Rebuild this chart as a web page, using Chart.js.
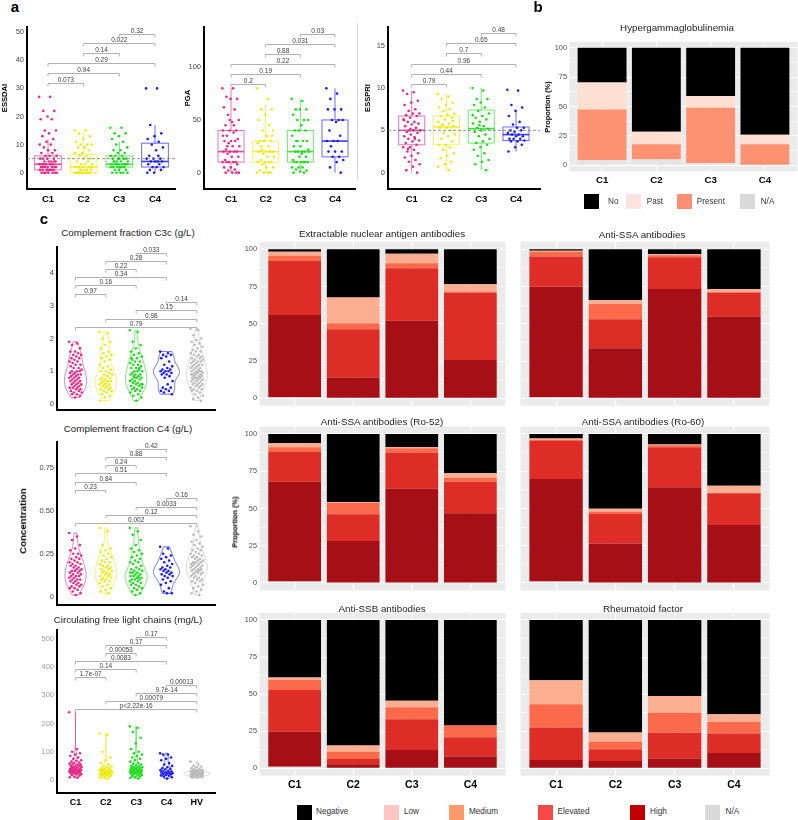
<!DOCTYPE html>
<html>
<head>
<meta charset="utf-8">
<title>Clusters</title>
<script src="https://cdn.jsdelivr.net/npm/chart.js@4.4.1/dist/chart.umd.min.js"></script>
<style>
  body { margin: 0; background: #fff; }
  #fig { position: relative; width: 798px; height: 820px; overflow: hidden; font-family: "Liberation Sans", Arial, sans-serif; color: #222; }
  #fig canvas { position: absolute; }
  .t { position: absolute; white-space: nowrap; z-index: 2; line-height: 1; }
  .k { position: absolute; width: 15px; height: 15px; }
  .sep { position: absolute; width: 1px; background: #d4d4d4; }
</style>
</head>
<body>
<div id="fig"></div>
<script>
// groups
const groupsA = ['C1', 'C2', 'C3', 'C4'];
const groupsC = ['C1', 'C2', 'C3', 'C4', 'HV'];

// ESSDAI (points per cluster)
const essdaiC1 = [27, 27, 22, 22, 20, 19, 19, 15, 15, 14, 13, 12, 11, 10, 10, 9, 8, 8, 7, 7, 6, 6, 6, 5, 5, 5, 5, 4, 4, 4, 4, 3, 3, 3, 3, 3, 3, 2, 2, 2, 2, 2, 2, 1, 1, 1, 1, 1, 1, 0, 0, 0, 0, 0, 0, 0, 3, 2, 4, 1];
const essdaiC2 = [15, 15, 14, 13, 12, 11, 10, 10, 10, 9, 9, 8, 7, 7, 6, 6, 5, 5, 4, 4, 3, 3, 3, 2, 2, 2, 2, 1, 1, 1, 1, 0, 0, 0, 0, 0, 0, 0, 0, 0, 0, 1, 2];
const essdaiC3 = [16, 16, 14, 14, 13, 12, 11, 10, 9, 8, 8, 7, 7, 6, 6, 6, 5, 5, 5, 5, 4, 4, 4, 4, 3, 3, 3, 3, 3, 3, 2, 2, 2, 2, 2, 2, 1, 1, 1, 0, 0, 0, 0, 0, 4, 3, 5];
const essdaiC4 = [30, 30, 17, 14, 13, 12, 11, 10, 9, 8, 6, 5, 5, 5, 4, 4, 4, 4, 3, 3, 2, 2, 2, 1, 1, 0, 0, 6];
// ESSDAI boxes: whisker low, q1, median, q3, whisker high
const essdaiLow = [0, 0, 0, 0];
const essdaiQ1 = [1, 0, 2, 2];
const essdaiMed = [3, 2, 3, 4];
const essdaiQ3 = [6, 6.5, 6, 10.5];
const essdaiHigh = [12, 15, 11, 17];

// PGA
const pgaC1 = [80, 80, 72, 70, 70, 62, 60, 55, 50, 48, 45, 40, 40, 40, 38, 35, 32, 30, 30, 30, 28, 25, 25, 22, 20, 20, 20, 20, 18, 15, 15, 12, 10, 10, 10, 10, 10, 8, 5, 5, 3, 2, 0, 0, 0, 0, 50, 35, 45, 25];
const pgaC2 = [80, 70, 60, 60, 55, 50, 45, 40, 40, 35, 30, 30, 30, 28, 25, 22, 20, 20, 20, 20, 18, 15, 15, 12, 10, 10, 10, 10, 8, 5, 5, 2, 0, 0, 0, 0, 25, 35];
const pgaC3 = [70, 68, 60, 60, 60, 55, 50, 50, 50, 45, 40, 40, 40, 35, 30, 30, 30, 25, 25, 20, 20, 20, 20, 20, 15, 15, 12, 10, 10, 10, 10, 10, 10, 5, 5, 5, 3, 2, 1, 0, 0, 30, 22, 18];
const pgaC4 = [80, 75, 70, 60, 60, 60, 50, 50, 50, 48, 40, 35, 30, 30, 30, 25, 20, 20, 20, 15, 15, 12, 10, 5, 0];
const pgaLow = [0, 0, 0, 0];
const pgaQ1 = [10, 10, 10, 15];
const pgaMed = [20, 20, 20, 30];
const pgaQ3 = [40, 30, 40, 50];
const pgaHigh = [80, 65, 70, 80];

// ESSPRI
const essC1 = [9.7, 9.5, 9.3, 8.5, 8.3, 8, 7.5, 7.3, 7, 7, 6.8, 6.7, 6.5, 6.3, 6, 6, 5.8, 5.7, 5.5, 5.3, 5, 5, 5, 4.8, 4.7, 4.5, 4.3, 4, 4, 3.8, 3.7, 3.5, 3.3, 3, 3, 2.7, 2.5, 2.3, 2, 1.8, 1.5, 1.3, 1, 0.7, 0.3, 0, 5.2, 6.2, 4.2, 2.8];
const essC2 = [9.3, 9, 8.7, 8.3, 8, 7.7, 7.5, 7.3, 7, 6.8, 6.7, 6.5, 6.3, 6, 5.8, 5.7, 5.5, 5.3, 5.3, 5, 4.7, 4.5, 4.3, 4, 3.7, 3.3, 3.3, 3, 2.7, 2.3, 2, 1.7, 1.3, 1, 0.7, 0.3, 5.6, 6.1];
const essC3 = [10, 9.7, 8.7, 8.7, 8.3, 8, 7.7, 7.3, 7, 6.7, 6.5, 6.3, 6, 5.8, 5.5, 5.3, 5.2, 5, 4.8, 4.5, 4.3, 4, 3.7, 3.5, 3.3, 3, 2.7, 2.3, 2, 1.5, 1.3, 1, 0.3, 5.6, 6.8];
const essC4 = [9.8, 9.7, 8, 7.7, 7.3, 6.7, 6, 5.7, 5.3, 5.3, 5, 5, 4.8, 4.7, 4.5, 4.5, 4.3, 4.3, 4, 4, 4, 3.8, 3.7, 3.7, 3.3, 3, 2.5];
const essLow = [0, 0.3, 0.3, 2.5];
const essQ1 = [3.3, 3.3, 3.5, 3.8];
const essMed = [5, 5.4, 5.2, 4.5];
const essQ3 = [6.7, 6.7, 7.4, 5.4];
const essHigh = [9.7, 9.3, 10, 7.3];

// Complement fraction C3c (g/L)
const c3cC1 = [1.9, 1.85, 1.8, 1.7, 1.6, 1.6, 1.55, 1.5, 1.5, 1.45, 1.4, 1.4, 1.35, 1.3, 1.3, 1.25, 1.2, 1.2, 1.15, 1.1, 1.1, 1.05, 1.0, 1.0, 1.0, 0.95, 0.95, 0.9, 0.9, 0.9, 0.85, 0.85, 0.8, 0.8, 0.8, 0.75, 0.75, 0.7, 0.7, 0.7, 0.65, 0.65, 0.6, 0.6, 0.6, 0.55, 0.55, 0.5, 0.5, 0.5, 0.45, 0.45, 0.4, 0.4, 0.35, 0.35, 0.3, 0.3, 0.25, 0.2];
const c3cC2 = [2.2, 2.15, 2.0, 1.9, 1.8, 1.7, 1.6, 1.55, 1.5, 1.45, 1.4, 1.35, 1.3, 1.2, 1.15, 1.1, 1.05, 1.0, 1.0, 0.95, 0.9, 0.9, 0.85, 0.8, 0.8, 0.75, 0.75, 0.7, 0.7, 0.7, 0.65, 0.65, 0.6, 0.6, 0.6, 0.55, 0.55, 0.5, 0.5, 0.45, 0.45, 0.4, 0.4, 0.35, 0.3, 0.25, 0.2, 0.1];
const c3cC3 = [2.25, 2.2, 1.9, 1.8, 1.7, 1.6, 1.55, 1.5, 1.45, 1.4, 1.35, 1.3, 1.3, 1.25, 1.2, 1.2, 1.15, 1.1, 1.1, 1.05, 1.0, 1.0, 1.0, 0.95, 0.9, 0.9, 0.9, 0.85, 0.85, 0.8, 0.8, 0.75, 0.75, 0.7, 0.7, 0.65, 0.65, 0.6, 0.6, 0.55, 0.55, 0.5, 0.5, 0.45, 0.45, 0.4, 0.4, 0.35, 0.3, 0.25, 0.2, 0.1, 1.4, 1.1, 0.8, 0.6];
const c3cC4 = [1.6, 1.55, 1.5, 1.5, 1.45, 1.4, 1.3, 1.2, 1.15, 1.1, 1.05, 1.05, 1.0, 1.0, 1.0, 0.95, 0.95, 0.9, 0.9, 0.85, 0.8, 0.7, 0.6, 0.5, 0.5, 0.45, 0.4, 0.4, 0.35, 0.3];
const c3cHV = [2.3, 2.25, 2.1, 2.0, 1.95, 1.9, 1.85, 1.8, 1.75, 1.7, 1.65, 1.6, 1.6, 1.55, 1.5, 1.5, 1.45, 1.45, 1.4, 1.4, 1.35, 1.35, 1.3, 1.3, 1.3, 1.25, 1.25, 1.2, 1.2, 1.2, 1.15, 1.15, 1.1, 1.1, 1.1, 1.05, 1.05, 1.0, 1.0, 1.0, 1.0, 0.95, 0.95, 0.95, 0.9, 0.9, 0.9, 0.9, 0.85, 0.85, 0.85, 0.8, 0.8, 0.8, 0.8, 0.75, 0.75, 0.75, 0.7, 0.7, 0.7, 0.65, 0.65, 0.6, 0.6, 0.6, 0.55, 0.55, 0.5, 0.5, 0.45, 0.45, 0.4, 0.4, 0.35, 0.3, 0.25, 0.2, 0.15, 0.1];

// Complement fraction C4 (g/L)
const c4C1 = [0.37, 0.35, 0.33, 0.3, 0.28, 0.27, 0.25, 0.25, 0.24, 0.23, 0.22, 0.22, 0.21, 0.2, 0.2, 0.19, 0.19, 0.18, 0.18, 0.17, 0.17, 0.16, 0.16, 0.15, 0.15, 0.15, 0.14, 0.14, 0.13, 0.13, 0.12, 0.12, 0.12, 0.11, 0.11, 0.1, 0.1, 0.1, 0.09, 0.09, 0.08, 0.08, 0.07, 0.07, 0.06, 0.06, 0.05, 0.05, 0.04, 0.03, 0.02, 0.01];
const c4C2 = [0.4, 0.38, 0.3, 0.28, 0.27, 0.26, 0.25, 0.24, 0.23, 0.22, 0.21, 0.2, 0.2, 0.19, 0.18, 0.18, 0.17, 0.17, 0.16, 0.16, 0.15, 0.15, 0.14, 0.14, 0.13, 0.13, 0.12, 0.12, 0.11, 0.11, 0.1, 0.1, 0.09, 0.09, 0.08, 0.07, 0.06, 0.05, 0.04, 0.03, 0.02];
const c4C3 = [0.4, 0.38, 0.36, 0.33, 0.3, 0.28, 0.27, 0.26, 0.25, 0.24, 0.23, 0.22, 0.21, 0.2, 0.2, 0.19, 0.18, 0.17, 0.16, 0.16, 0.15, 0.15, 0.14, 0.14, 0.13, 0.13, 0.12, 0.12, 0.12, 0.11, 0.11, 0.1, 0.1, 0.1, 0.09, 0.09, 0.08, 0.08, 0.07, 0.07, 0.06, 0.05, 0.05, 0.04, 0.03, 0.02, 0.01, 0.14, 0.11];
const c4C4 = [0.29, 0.28, 0.25, 0.24, 0.23, 0.22, 0.21, 0.2, 0.19, 0.18, 0.17, 0.17, 0.16, 0.16, 0.15, 0.15, 0.14, 0.14, 0.13, 0.13, 0.12, 0.12, 0.11, 0.1, 0.09, 0.08, 0.07, 0.05, 0.03, 0.02, 0.02];
const c4HV = [0.41, 0.38, 0.36, 0.35, 0.33, 0.32, 0.31, 0.3, 0.29, 0.28, 0.27, 0.27, 0.26, 0.25, 0.25, 0.24, 0.24, 0.23, 0.23, 0.22, 0.22, 0.21, 0.21, 0.2, 0.2, 0.2, 0.19, 0.19, 0.19, 0.18, 0.18, 0.18, 0.17, 0.17, 0.17, 0.16, 0.16, 0.16, 0.15, 0.15, 0.15, 0.14, 0.14, 0.14, 0.13, 0.13, 0.12, 0.12, 0.11, 0.11, 0.1, 0.1, 0.09, 0.09, 0.08, 0.07, 0.06, 0.05, 0.04, 0.03, 0.02, 0.01];

// Circulating free light chains (mg/L)
const flcC1 = [240, 110, 100, 95, 90, 85, 80, 75, 70, 68, 65, 62, 60, 58, 55, 55, 52, 50, 50, 48, 46, 45, 44, 42, 40, 40, 38, 37, 36, 35, 34, 33, 32, 30, 30, 29, 28, 27, 26, 25, 24, 22, 20, 20, 18, 15, 12, 10, 8, 45, 55, 35, 40];
const flcC2 = [165, 160, 100, 80, 70, 60, 55, 50, 48, 45, 42, 40, 38, 36, 35, 34, 32, 30, 30, 28, 27, 26, 25, 24, 22, 21, 20, 20, 18, 16, 15, 14, 12, 10, 8, 5, 35, 30, 25];
const flcC3 = [190, 185, 170, 150, 130, 110, 100, 95, 90, 85, 80, 75, 70, 65, 60, 58, 55, 52, 50, 48, 46, 45, 44, 42, 40, 40, 38, 36, 35, 34, 33, 32, 30, 30, 29, 28, 26, 25, 24, 22, 20, 20, 18, 16, 14, 12, 10, 8, 5, 35, 30, 40, 45];
const flcC4 = [95, 90, 90, 80, 75, 70, 60, 55, 50, 45, 42, 40, 38, 35, 33, 32, 30, 28, 27, 26, 25, 24, 22, 20, 20, 18, 16, 15, 12, 10, 5];
const flcHV = [65, 55, 50, 48, 45, 42, 40, 38, 36, 35, 34, 33, 32, 31, 30, 30, 29, 28, 28, 27, 27, 26, 26, 25, 25, 24, 24, 23, 23, 22, 22, 21, 21, 20, 20, 20, 19, 19, 18, 18, 17, 17, 16, 16, 15, 15, 14, 13, 12, 11, 10, 9, 8, 26, 25, 24];

// tick labels
const essdaiTicks = [0, 10, 20, 30, 40, 50];
const pgaTicks = [0, 50, 100];
const essTicks = [0, 5, 10, 15];
const c3cTicks = [0, 1, 2, 3, 4];
const c4Ticks = [0, 0.25, 0.5, 0.75];
const flcTicks = [0, 100, 200, 300, 400, 500];
const propTicks = [0, 25, 50, 75, 100];

// pairwise comparisons and p-values
const pairs4 = [[1, 2], [1, 3], [1, 4], [2, 3], [2, 4], [3, 4]];
const pairsHV = [[1, 5], [2, 5], [3, 5], [4, 5]];
const essdaiP = ['0.073', '0.94', '0.29', '0.14', '0.022', '0.32'];
const pgaP = ['0.2', '0.19', '0.22', '0.88', '0.031', '0.03'];
const essP = ['0.79', '0.44', '0.96', '0.7', '0.65', '0.48'];
const c3cP = ['0.97', '0.16', '0.34', '0.22', '0.28', '0.033'];
const c3cPHV = ['0.79', '0.98', '0.15', '0.14'];
const c4P = ['0.23', '0.84', '0.51', '0.24', '0.88', '0.42'];
const c4PHV = ['0.002', '0.12', '0.0033', '0.16'];
const flcP = ['1.7e-07', '0.14', '0.0083', '0.00053', '0.17', '0.17'];
const flcPHV = ['p<2.22e-16', '0.00079', '9.7e-14', '0.00013'];

// Hypergammaglobulinemia (%), stacked bottom to top
const hyperNA = [4.5, 5, 2, 0];
const hyperPresent = [43, 13, 47, 18];
const hyperPast = [23, 10.5, 10, 8];
const hyperNo = [29.5, 71.5, 41, 74];

// antibody panels (%), stacked bottom to top: N/A, High, Elevated, Medium, Low, Negative
const enaNA = [0.7, 0, 0, 0], enaHigh = [55.2, 13.9, 52.1, 25.7], enaElev = [36.3, 32.4, 35.1, 45.2], enaMed = [3.5, 4, 3.5, 0.8], enaLow = [2.7, 17.3, 6.3, 4.8], enaNeg = [1.6, 32.4, 3.0, 23.5];
const ssaNA = [0.7, 0, 0, 0], ssaHigh = [74.2, 33.6, 73.4, 54.8], ssaElev = [20.2, 19.4, 21.2, 16.1], ssaMed = [3.3, 10.3, 1.4, 0.5], ssaLow = [0.7, 2.7, 0.6, 2.0], ssaNeg = [0.9, 34, 3.4, 26.6];
const ro52NA = [1.1, 0, 0, 0], ro52High = [66.9, 28.2, 63.3, 46.8], ro52Elev = [19.9, 17.9, 24.2, 21.2], ro52Med = [3.1, 7.8, 2.9, 2.7], ro52Low = [2.7, 0.4, 0.6, 2.9], ro52Neg = [6.3, 45.7, 9.0, 26.4];
const ro60NA = [1.1, 0, 0, 0], ro60High = [68.7, 26.6, 64.2, 38.9], ro60Elev = [25.5, 19.7, 26.8, 21.3], ro60Med = [0.8, 1.6, 1.4, 0], ro60Low = [0.8, 2.0, 0.6, 5.1], ro60Neg = [3.1, 50.1, 7.0, 34.7];
const ssbNA = [1.1, 0, 0, 0], ssbHigh = [23.6, 2.7, 12.4, 7.9], ssbElev = [28.1, 3.6, 20.6, 13.0], ssbMed = [6.8, 4.9, 8.1, 7.9], ssbLow = [1.7, 4.1, 4.5, 0], ssbNeg = [38.7, 84.7, 54.4, 71.2];
const rfNA = [0, 0, 0, 0], rfHigh = [5.6, 4.9, 6.5, 10.3], rfElev = [21.9, 7.9, 17.4, 13.2], rfMed = [15.7, 5.1, 13.5, 7.8], rfLow = [16.1, 6.3, 11.4, 5.2], rfNeg = [40.7, 75.8, 51.2, 63.5];

// ---------------------------------------------------------------
const fig = document.getElementById('fig');
const FONT = '"Liberation Sans", Arial, sans-serif';
Chart.defaults.font.family = FONT;

const colorsG = ['#e7298a', '#eeea10', '#1fdc1f', '#1c1cf0', '#bcbcbc'];
const hyperColors = ['#e4e4e4', '#fc9272', '#fee0d2', '#000000'];
const abColors = ['#e4e4e4', '#a50f15', '#de2d26', '#fb6a4a', '#fcae91', '#000000'];

const jitter = (k, w) => (((k * 0.618034) % 1) - 0.5) * w;
const fixTicks = vals => s => { s.ticks = vals.map(v => ({ value: v })); };
const noPad = s => { s.paddingTop = 0; s.paddingBottom = 0; s.paddingLeft = 0; s.paddingRight = 0; };

// canvas placed at (x0,y0) whose plot area is area = [left, top, right, bottom]
function mount(x0, y0, w, h, area) {
  const c = document.createElement('canvas');
  c.width = w; c.height = h;
  c.style.left = x0 + 'px'; c.style.top = y0 + 'px';
  c.style.width = w + 'px'; c.style.height = h + 'px';
  fig.appendChild(c);
  return {
    canvas: c,
    padding: { left: 0, top: area[1] - y0, right: x0 + w - area[2], bottom: 0 },
    yW: area[0] - x0,
    xH: y0 + h - area[3]
  };
}

function txt(s, x, y, size, o = {}) {
  const d = document.createElement('div');
  d.className = 't';
  d.textContent = s;
  d.style.left = x + 'px'; d.style.top = y + 'px';
  d.style.fontSize = size + 'px';
  if (o.bold) d.style.fontWeight = 'bold';
  if (o.color) d.style.color = o.color;
  d.style.transform = (o.left ? 'translate(0,-50%)' : 'translate(-50%,-50%)') + (o.rot ? ' rotate(-90deg)' : '');
  fig.appendChild(d);
}

function key(x, y, color, label, tx) {
  const d = document.createElement('div');
  d.className = 'k';
  d.style.left = x + 'px'; d.style.top = (y - 7.5) + 'px';
  d.style.background = color;
  fig.appendChild(d);
  txt(label, tx, y, 8.2, { left: true, color: '#333' });
}

function baseOptions(f) {
  return {
    responsive: false, animation: false, devicePixelRatio: 1, events: [],
    layout: { padding: f.padding },
    plugins: { legend: { display: false }, tooltip: { enabled: false } }
  };
}

function pointSets(groups, spread, r) {
  return groups.map((vals, i) => ({
    data: vals.map((v, k) => ({ x: i + 1 + jitter(k, spread), y: v })),
    backgroundColor: colorsG[i], borderWidth: 0, pointRadius: r
  }));
}

// box & whisker drawn through the scales
function boxPlugin(stats, bw) {
  return {
    id: 'boxes',
    beforeDatasetsDraw(chart) {
      const { ctx, scales: { x, y } } = chart;
      stats[0].forEach((_, i) => {
        const cx = x.getPixelForValue(i + 1);
        const half = x.getPixelForValue(i + 1 + bw / 2) - cx;
        const [lo, q1, med, q3, hi] = stats.map(a => y.getPixelForValue(a[i]));
        ctx.save();
        ctx.strokeStyle = colorsG[i];
        ctx.globalAlpha = 0.65;
        ctx.lineWidth = 1;
        ctx.beginPath();
        ctx.moveTo(cx, lo); ctx.lineTo(cx, q1);
        ctx.moveTo(cx, q3); ctx.lineTo(cx, hi);
        ctx.stroke();
        ctx.strokeRect(cx - half, q3, 2 * half, q1 - q3);
        ctx.globalAlpha = 0.85;
        ctx.lineWidth = 1.6;
        ctx.beginPath(); ctx.moveTo(cx - half, med); ctx.lineTo(cx + half, med); ctx.stroke();
        ctx.restore();
      });
    }
  };
}

function refPlugin(value) {
  return {
    id: 'refline',
    afterDatasetsDraw(chart) {
      if (value === null) return;
      const { ctx, chartArea: a, scales: { y } } = chart;
      const py = y.getPixelForValue(value);
      ctx.save();
      ctx.strokeStyle = '#777'; ctx.lineWidth = 0.8; ctx.setLineDash([3, 2]);
      ctx.beginPath(); ctx.moveTo(a.left, py); ctx.lineTo(a.right, py); ctx.stroke();
      ctx.restore();
    }
  };
}

function bracketPlugin(sets) {
  return {
    id: 'brackets',
    afterDatasetsDraw(chart) {
      const { ctx, scales: { x, y } } = chart;
      ctx.save();
      ctx.strokeStyle = '#a8a8a8'; ctx.lineWidth = 0.9;
      ctx.fillStyle = '#3c3c3c';
      ctx.font = '6.5px ' + FONT;
      ctx.textAlign = 'center'; ctx.textBaseline = 'bottom';
      sets.forEach(s => s.pairs.forEach((p, k) => {
        const x1 = x.getPixelForValue(p[0]), x2 = x.getPixelForValue(p[1]);
        const py = Math.round(y.getPixelForValue(s.base + k * s.step)) + 0.5;
        ctx.beginPath();
        ctx.moveTo(x1, py + 3); ctx.lineTo(x1, py); ctx.lineTo(x2, py); ctx.lineTo(x2, py + 3);
        ctx.stroke();
        ctx.fillText(s.labels[k], (x1 + x2) / 2, py);
      }));
      ctx.restore();
    }
  };
}

// violin outlines from a gaussian kernel density of each group (area scaled)
function violinPlugin(groups, halfW) {
  return {
    id: 'violins',
    beforeDatasetsDraw(chart) {
      const { ctx, scales: { x, y } } = chart;
      const shapes = groups.map(vals => {
        const n = vals.length;
        const s = vals.slice().sort((a, b) => a - b);
        const q = p => { const h = (n - 1) * p, l = Math.floor(h); return s[l] + (s[Math.min(l + 1, n - 1)] - s[l]) * (h - l); };
        const mean = s.reduce((a, b) => a + b, 0) / n;
        const sd = Math.sqrt(s.reduce((a, b) => a + (b - mean) * (b - mean), 0) / (n - 1));
        let spread = Math.min(sd, (q(0.75) - q(0.25)) / 1.34);
        if (!spread) spread = sd || 1;
        const bw = 0.9 * spread * Math.pow(n, -0.2);
        const pts = [];
        for (let j = 0; j <= 80; j++) {
          const v = s[0] + (s[n - 1] - s[0]) * j / 80;
          let d = 0;
          s.forEach(u => { const z = (v - u) / bw; d += Math.exp(-0.5 * z * z); });
          pts.push([v, d / (n * bw)]);
        }
        return pts;
      });
      const dmax = Math.max(...shapes.flat().map(p => p[1]));
      shapes.forEach((pts, i) => {
        const cx = x.getPixelForValue(i + 1);
        ctx.save();
        ctx.strokeStyle = colorsG[i]; ctx.globalAlpha = 0.7; ctx.lineWidth = 0.9;
        ctx.beginPath();
        pts.forEach((p, j) => {
          const px = cx + p[1] / dmax * halfW, py = y.getPixelForValue(p[0]);
          j ? ctx.lineTo(px, py) : ctx.moveTo(px, py);
        });
        for (let j = pts.length - 1; j >= 0; j--) {
          ctx.lineTo(cx - pts[j][1] / dmax * halfW, y.getPixelForValue(pts[j][0]));
        }
        ctx.closePath();
        ctx.stroke();
        ctx.restore();
      });
    }
  };
}

const greyBg = {
  id: 'greyBg',
  beforeDraw(chart) {
    const { ctx, chartArea: a } = chart;
    ctx.save(); ctx.fillStyle = '#ebebeb'; ctx.fillRect(a.left, a.top, a.width, a.height); ctx.restore();
  }
};

// ---------------------------------------------------------------
function boxPanel(f, o) {
  const opts = baseOptions(f);
  opts.scales = {
    x: {
      type: 'linear', min: o.xr[0], max: o.xr[1],
      afterBuildTicks: fixTicks([1, 2, 3, 4]),
      afterFit: s => { s.height = f.xH; noPad(s); },
      ticks: { callback: v => groupsA[v - 1], color: '#000', font: { size: 9.5, weight: 'bold' }, padding: 5, maxRotation: 0, autoSkip: false },
      grid: { display: false, drawTicks: false },
      border: { display: true, color: '#000', width: 2 }
    },
    y: {
      type: 'linear', min: o.yr[0], max: o.yr[1],
      afterBuildTicks: fixTicks(o.ticks),
      afterFit: s => { s.width = f.yW; noPad(s); },
      ticks: { color: '#4a4a4a', font: { size: 7.5 }, padding: 3 },
      grid: { display: false, drawTicks: false },
      border: { display: true, color: '#000', width: 2 }
    }
  };
  new Chart(f.canvas, {
    type: 'scatter',
    data: { datasets: pointSets(o.pts, 0.5, 1.3) },
    options: opts,
    plugins: [boxPlugin(o.stats, 0.75), refPlugin(o.ref), bracketPlugin([{ pairs: pairs4, labels: o.p, base: o.base, step: o.step }])]
  });
}

function violinPanel(f, o) {
  const opts = baseOptions(f);
  opts.scales = {
    x: {
      type: 'linear', min: 0.39, max: 5.6,
      afterBuildTicks: fixTicks([1, 2, 3, 4, 5]),
      afterFit: s => { s.height = f.xH; noPad(s); },
      ticks: { display: o.showX, callback: v => groupsC[v - 1], color: '#000', font: { size: 9, weight: 'bold' }, padding: 4.3, maxRotation: 0, autoSkip: false },
      grid: { display: false, drawTicks: false },
      border: { display: true, color: '#000', width: 2 }
    },
    y: {
      type: 'linear', min: o.yr[0], max: o.yr[1],
      afterBuildTicks: fixTicks(o.ticks),
      afterFit: s => { s.width = f.yW; noPad(s); },
      ticks: { color: o.tickColor, font: { size: 7.5 }, padding: 3, callback: o.fmt },
      grid: { display: false, drawTicks: false },
      border: { display: true, color: '#000', width: 2 }
    }
  };
  new Chart(f.canvas, {
    type: 'scatter',
    data: { datasets: pointSets(o.pts, 0.42, 1.3) },
    options: opts,
    plugins: [violinPlugin(o.pts, 13), bracketPlugin([
      { pairs: pairs4, labels: o.p, base: o.base, step: o.step },
      { pairs: pairsHV, labels: o.pHV, base: o.baseHV, step: o.stepHV }
    ])]
  });
}

function stackPanel(f, series, colors, showY, showX, xFont) {
  const gridTicks = [];
  propTicks.forEach((v, i) => { gridTicks.push(v); if (i < propTicks.length - 1) gridTicks.push((v + propTicks[i + 1]) / 2); });
  const opts = baseOptions(f);
  opts.scales = {
    x: {
      type: 'linear', stacked: true, min: 0.4, max: 4.6, offset: false,
      afterBuildTicks: fixTicks([1, 2, 3, 4]),
      afterFit: s => { s.height = f.xH; noPad(s); },
      ticks: { display: showX, callback: v => groupsA[v - 1], color: '#000', font: { size: xFont, weight: 'bold' }, padding: 3, maxRotation: 0, autoSkip: false },
      grid: { color: '#ffffff', lineWidth: 1.1, drawTicks: false, offset: false },
      border: { display: false }
    },
    y: {
      type: 'linear', stacked: true, min: -5, max: 105,
      afterBuildTicks: fixTicks(gridTicks),
      afterFit: s => { s.width = f.yW; noPad(s); },
      ticks: { display: showY, callback: v => (propTicks.includes(v) ? v : ''), color: '#4d4d4d', font: { size: 7.4 }, padding: 2.5 },
      grid: { color: '#ffffff', lineWidth: c => (c.tick && propTicks.includes(c.tick.value) ? 1.1 : 0.5), drawTicks: false },
      border: { display: false }
    }
  };
  new Chart(f.canvas, {
    type: 'bar',
    data: {
      datasets: series.map((vals, s) => ({
        data: vals.map((v, i) => ({ x: i + 1, y: v })),
        backgroundColor: colors[s], borderWidth: 0,
        barPercentage: 0.9, categoryPercentage: 1
      }))
    },
    options: opts,
    plugins: [greyBg]
  });
}

// ---------------------------------------------------------------
// panel a
boxPanel(mount(0, 20, 185, 195, [27, 27, 175, 189]), {
  pts: [essdaiC1, essdaiC2, essdaiC3, essdaiC4],
  stats: [essdaiLow, essdaiQ1, essdaiMed, essdaiQ3, essdaiHigh],
  xr: [0.411, 4.561], yr: [-5.8, 51.85], ticks: essdaiTicks, ref: 5,
  p: essdaiP, base: 32, step: 3.5
});
boxPanel(mount(180, 20, 180, 195, [204, 27, 355, 189]), {
  pts: [pgaC1, pgaC2, pgaC3, pgaC4],
  stats: [pgaLow, pgaQ1, pgaMed, pgaQ3, pgaHigh],
  xr: [0.221, 4.577], yr: [-15.5, 138.2], ticks: pgaTicks, ref: null,
  p: pgaP, base: 84, step: 9.6
});
boxPanel(mount(362, 20, 185, 195, [388, 27, 540, 189]), {
  pts: [essC1, essC2, essC3, essC4],
  stats: [essLow, essQ1, essMed, essQ3, essHigh],
  xr: [0.318, 4.69], yr: [-1.93, 17.22], ticks: essTicks, ref: 5,
  p: essP, base: 10.5, step: 1.2
});

// panel b
stackPanel(mount(530, 20, 268, 175, [569.5, 41.8, 797.5, 171.2]),
  [hyperNA, hyperPresent, hyperPast, hyperNo], hyperColors, true, true, 9.7);

// panel c, concentrations
violinPanel(mount(0, 240, 220, 175, [57, 247, 215, 410]), {
  pts: [c3cC1, c3cC2, c3cC3, c3cC4, c3cHV], yr: [-0.183, 4.794], ticks: c3cTicks,
  tickColor: '#4a4a4a', fmt: v => v, showX: false,
  p: c3cP, base: 3.37, step: 0.25, pHV: c3cPHV, baseHV: 2.34, stepHV: 0.26
});
violinPanel(mount(0, 435, 220, 175, [57, 442, 215, 605]), {
  pts: [c4C1, c4C2, c4C3, c4C4, c4HV], yr: [-0.048, 0.899], ticks: c4Ticks,
  tickColor: '#4a4a4a', fmt: v => (v === 0 ? '0' : v.toFixed(2)), showX: false,
  p: c4P, base: 0.62, step: 0.048, pHV: c4PHV, baseHV: 0.427, stepHV: 0.048
});
violinPanel(mount(0, 623, 220, 192, [57, 630, 215, 793]), {
  pts: [flcC1, flcC2, flcC3, flcC4, flcHV], yr: [-46.1, 531.9], ticks: flcTicks,
  tickColor: '#a0a0a0', fmt: v => v, showX: true,
  p: flcP, base: 364, step: 28.8, pHV: flcPHV, baseHV: 252, stepHV: 28
});

// panel c, antibodies
const colL = [222, 288, 259.5, 505.5], colR = [512, 262, 520.5, 769.5];
const rows = [[238, 172, 241.85, 405.75], [423, 172, 426.5, 590.5], [609, 192, 612.6, 775.7]];
const cell = (c, r) => mount(c[0], r[0], c[1], r[1], [c[2], r[2], c[3], r[3]]);
stackPanel(cell(colL, rows[0]), [enaNA, enaHigh, enaElev, enaMed, enaLow, enaNeg], abColors, true, false, 10.5);
stackPanel(cell(colR, rows[0]), [ssaNA, ssaHigh, ssaElev, ssaMed, ssaLow, ssaNeg], abColors, false, false, 10.5);
stackPanel(cell(colL, rows[1]), [ro52NA, ro52High, ro52Elev, ro52Med, ro52Low, ro52Neg], abColors, true, false, 10.5);
stackPanel(cell(colR, rows[1]), [ro60NA, ro60High, ro60Elev, ro60Med, ro60Low, ro60Neg], abColors, false, false, 10.5);
stackPanel(cell(colL, rows[2]), [ssbNA, ssbHigh, ssbElev, ssbMed, ssbLow, ssbNeg], abColors, true, true, 10.5);
stackPanel(cell(colR, rows[2]), [rfNA, rfHigh, rfElev, rfMed, rfLow, rfNeg], abColors, false, true, 10.5);

// ---------------------------------------------------------------
// text, separators and legends
const sep = document.createElement('div');
sep.className = 'sep';
sep.style.left = '357px'; sep.style.top = '23px'; sep.style.height = '157px';
fig.appendChild(sep);

txt('a', 15, 5.5, 15, { bold: true, color: '#000' });
txt('b', 538, 5.5, 15, { bold: true, color: '#000' });
txt('c', 44, 217.5, 15, { bold: true, color: '#000' });

txt('ESSDAI', 5, 98, 7.6, { bold: true, rot: true, color: '#000' });
txt('PGA', 188, 98, 7.6, { bold: true, rot: true, color: '#000' });
txt('ESSPRI', 368, 98, 7.6, { bold: true, rot: true, color: '#000' });

txt('Hypergammaglobulinemia', 677, 28, 9.8);
txt('Proportion (%)', 548, 107, 7.4, { bold: true, rot: true, color: '#000' });
key(584, 201.7, '#000000', 'No', 608);
key(626, 201.7, '#fde3df', 'Past', 646.7);
key(677, 201.7, '#fc8f72', 'Present', 696.7);
key(740, 201.7, '#d9d9d9', 'N/A', 760.7);

txt('Complement fraction C3c (g/L)', 128, 233, 9.8);
txt('Complement fraction C4 (g/L)', 128, 429, 9.8);
txt('Circulating free light chains (mg/L)', 128, 620, 9.8);
txt('Concentration', 23, 521, 9.7, { bold: true, rot: true, color: '#000' });

txt('Extractable nuclear antigen antibodies', 382, 234, 9.8);
txt('Anti-SSA antibodies', 642, 235, 9.8);
txt('Anti-SSA antibodies (Ro-52)', 382, 421.7, 9.8);
txt('Anti-SSA antibodies (Ro-60)', 643, 421.7, 9.8);
txt('Anti-SSB antibodies', 382, 609, 9.8);
txt('Rheumatoid factor', 643, 609, 9.8);
txt('Proportion (%)', 235, 522, 7.4, { bold: true, rot: true, color: '#000' });

key(296.7, 812, '#000000', 'Negative', 316);
key(384, 812, '#fcc6c3', 'Low', 404);
key(449, 812, '#fd9a68', 'Medium', 469);
key(538, 812, '#f74747', 'Elevated', 557.6);
key(629.6, 812, '#c20000', 'High', 650);
key(705, 812, '#d9d9d9', 'N/A', 725.5);
</script>
</body>
</html>
